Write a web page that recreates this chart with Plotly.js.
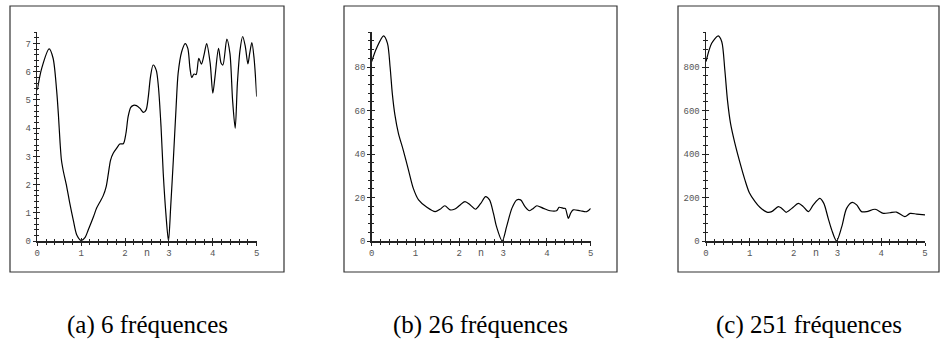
<!DOCTYPE html>
<html><head><meta charset="utf-8">
<script src="https://cdn.plot.ly/plotly-3.0.1.min.js"></script>
<style>html,body{margin:0;padding:0;background:#fff}</style>
</head><body><div id="chart" style="width:942px;height:343px"></div>
<script>
// ---- data ----
const n1 = [0,0.1,0.27,0.36,0.44,0.48,0.52,0.55,0.59,0.67,0.74,0.82,0.9,1.0,1.09,1.16,1.28,1.35,1.43,1.5,1.57,1.62,1.67,1.73,1.81,1.88,1.96,2.02,2.07,2.13,2.19,2.26,2.34,2.42,2.48,2.53,2.58,2.64,2.71,2.76,2.82,2.87,2.93,2.99,3.04,3.1,3.16,3.21,3.29,3.37,3.43,3.48,3.52,3.57,3.62,3.68,3.74,3.8,3.86,3.94,4.0,4.05,4.13,4.19,4.23,4.32,4.39,4.45,4.51,4.56,4.62,4.68,4.74,4.8,4.84,4.89,4.94,5.0];
const v1 = [5.35,6.12,6.81,6.48,5.35,4.5,3.46,2.87,2.5,1.93,1.34,0.74,0.21,0.02,0.13,0.39,0.86,1.16,1.39,1.6,1.93,2.4,2.87,3.11,3.29,3.44,3.45,3.82,4.41,4.74,4.81,4.8,4.7,4.56,4.65,5.12,5.83,6.24,6.06,5.47,4.05,2.4,0.98,0.0,1.22,2.87,4.65,5.95,6.71,7.0,6.83,6.12,5.8,5.92,5.9,6.48,6.27,6.6,7.0,6.3,5.24,5.83,6.83,6.3,6.24,7.16,6.65,5.0,4.0,5.59,6.77,7.25,6.9,6.28,6.65,7.03,6.48,5.12];

const n2 = [0,0.11,0.27,0.36,0.42,0.47,0.53,0.61,0.72,0.84,0.95,1.07,1.26,1.45,1.56,1.67,1.79,1.9,2.02,2.13,2.25,2.37,2.49,2.6,2.69,2.78,2.85,2.98,3.08,3.2,3.31,3.4,3.5,3.6,3.69,3.77,3.92,4.07,4.22,4.28,4.38,4.42,4.49,4.54,4.6,4.76,4.91,5.0];
const v2 = [82.5,88.6,94.3,90.9,80,67.9,58,49.5,41.8,32.6,24.2,18.9,15.5,13.5,14.6,16.2,14.3,14.7,16.6,18.1,16.6,14.6,17.3,20.4,18.9,12.7,6.6,0,6.6,15,18.9,18.9,15.8,13.9,15,16.2,15,13.9,13.9,15.5,15,15,10.4,12.7,14.3,13.9,13.5,15];

const n3 = [0,0.13,0.28,0.36,0.43,0.49,0.56,0.66,0.78,0.89,0.99,1.12,1.23,1.39,1.5,1.65,1.73,1.83,1.96,2.11,2.22,2.34,2.45,2.6,2.69,2.79,2.87,2.98,3.1,3.21,3.34,3.44,3.55,3.67,3.86,4.05,4.2,4.35,4.54,4.66,4.81,5.0];
const v3 = [825,909,943,916,786,648,541,449,357,280,222,181,155,133,135,158,150,132,150,173,158,135,166,196,173,104,51,0,66,150,178,166,135,135,146,127,130,133,112,127,124,120];

const xTicks = [0,1,2,3,4,5];
const yTicks1 = [0,1,2,3,4,5,6,7];
const yTicks2 = [0,20,40,60,80];
const yTicks3 = [0,200,400,600,800];
const xLabel = "n";
const captions = ["(a) 6 fréquences","(b) 26 fréquences","(c) 251 fréquences"];

// ---- layout geometry ----
const W = 942, H = 343;
const px = v => v / W, py = v => (H - v) / H;
const panels = [
  {n:n1, v:v1, yt:yTicks1, x0:37.3, x5:256.7, ymax:7.41, ymin:0.2, box:[10,284]},
  {n:n2, v:v2, yt:yTicks2, x0:371.7, x5:590.7, ymax:96.1, ymin:4, box:[344,617]},
  {n:n3, v:v3, yt:yTicks3, x0:706, x5:925, ymax:961, ymin:40, box:[678,939]}
];
const yZero = 241, yTop = 32;
const tickFont = {family:"Liberation Mono, Courier New, monospace", size:9, color:"#555"};
const axCol = "#222";

const data = [];
const layout = {
  width:W, height:H, margin:{l:0,r:0,t:0,b:0},
  paper_bgcolor:"#fff", plot_bgcolor:"rgba(0,0,0,0)",
  showlegend:false, shapes:[], annotations:[]
};

panels.forEach((p, k) => {
  const i = k + 1, j = k + 4;
  data.push({x:p.n, y:p.v, type:"scatter", mode:"lines",
    line:{color:"#000", width:1.2, shape:"spline", smoothing:0.8},
    xaxis:"x"+i, yaxis:"y"+i, hoverinfo:"skip"});
  data.push({x:[null], y:[null], type:"scatter", mode:"lines",
    xaxis:"x"+j, yaxis:"y"+j, hoverinfo:"skip"});
  const xd = [px(p.x0), px(p.x5)];
  const yd = [py(yZero), py(yTop)];
  const xr = [0, 5], yr = [0, p.ymax];
  layout["xaxis"+i] = {domain:xd, range:xr, anchor:"y"+i, tickmode:"array", tickvals:xTicks,
    ticktext:xTicks.map(String), ticks:"outside", ticklen:3, tickwidth:1, tickcolor:axCol,
    showline:true, linecolor:axCol, linewidth:1.5, showgrid:false, zeroline:false,
    tickfont:tickFont, fixedrange:true,
    minor:{tickmode:"linear", tick0:0, dtick:0.2, ticks:"outside", ticklen:2, tickwidth:1, tickcolor:axCol, showgrid:false}};
  layout["yaxis"+i] = {domain:yd, range:yr, anchor:"x"+i, tickmode:"array", tickvals:p.yt,
    ticktext:p.yt.map(String), ticks:"outside", ticklen:3, tickwidth:1, tickcolor:axCol,
    showline:true, linecolor:axCol, linewidth:1.5, showgrid:false, zeroline:false,
    tickfont:tickFont, fixedrange:true,
    minor:{tickmode:"linear", tick0:0, dtick:p.ymin, ticks:"outside", ticklen:2, tickwidth:1, tickcolor:axCol, showgrid:false}};
  layout["xaxis"+j] = {domain:xd, range:xr, anchor:"y"+j, overlaying:"x"+i, tickmode:"array", tickvals:xTicks,
    ticks:"inside", ticklen:3, tickwidth:1, tickcolor:axCol, showticklabels:false,
    showline:false, showgrid:false, zeroline:false, fixedrange:true,
    minor:{tickmode:"linear", tick0:0, dtick:0.2, ticks:"inside", ticklen:2, tickwidth:1, tickcolor:axCol, showgrid:false}};
  layout["yaxis"+j] = {domain:yd, range:yr, anchor:"x"+j, overlaying:"y"+i, tickmode:"array", tickvals:p.yt,
    ticks:"inside", ticklen:3, tickwidth:1, tickcolor:axCol, showticklabels:false,
    showline:false, showgrid:false, zeroline:false, fixedrange:true,
    minor:{tickmode:"linear", tick0:0, dtick:p.ymin, ticks:"inside", ticklen:2, tickwidth:1, tickcolor:axCol, showgrid:false}};
  layout.shapes.push({type:"rect", xref:"paper", yref:"paper",
    x0:px(p.box[0]), x1:px(p.box[1]), y0:py(272), y1:py(6),
    line:{color:"#333", width:1.2}, fillcolor:"rgba(0,0,0,0)", layer:"below"});
  layout.annotations.push({xref:"x"+i, yref:"paper", x:2.5, y:py(253), text:xLabel,
    showarrow:false, font:{family:"Liberation Mono, Courier New, monospace", size:10, color:"#555"},
    xanchor:"center", yanchor:"middle"});
  layout.annotations.push({xref:"paper", yref:"paper", x:px((p.box[0]+p.box[1])/2), y:py(325),
    text:captions[k], showarrow:false,
    font:{family:"Liberation Serif, Times New Roman, serif", size:25, color:"#000"},
    xanchor:"center", yanchor:"middle"});
});

Plotly.newPlot("chart", data, layout, {staticPlot:true, displayModeBar:false});
</script>
</body></html>
